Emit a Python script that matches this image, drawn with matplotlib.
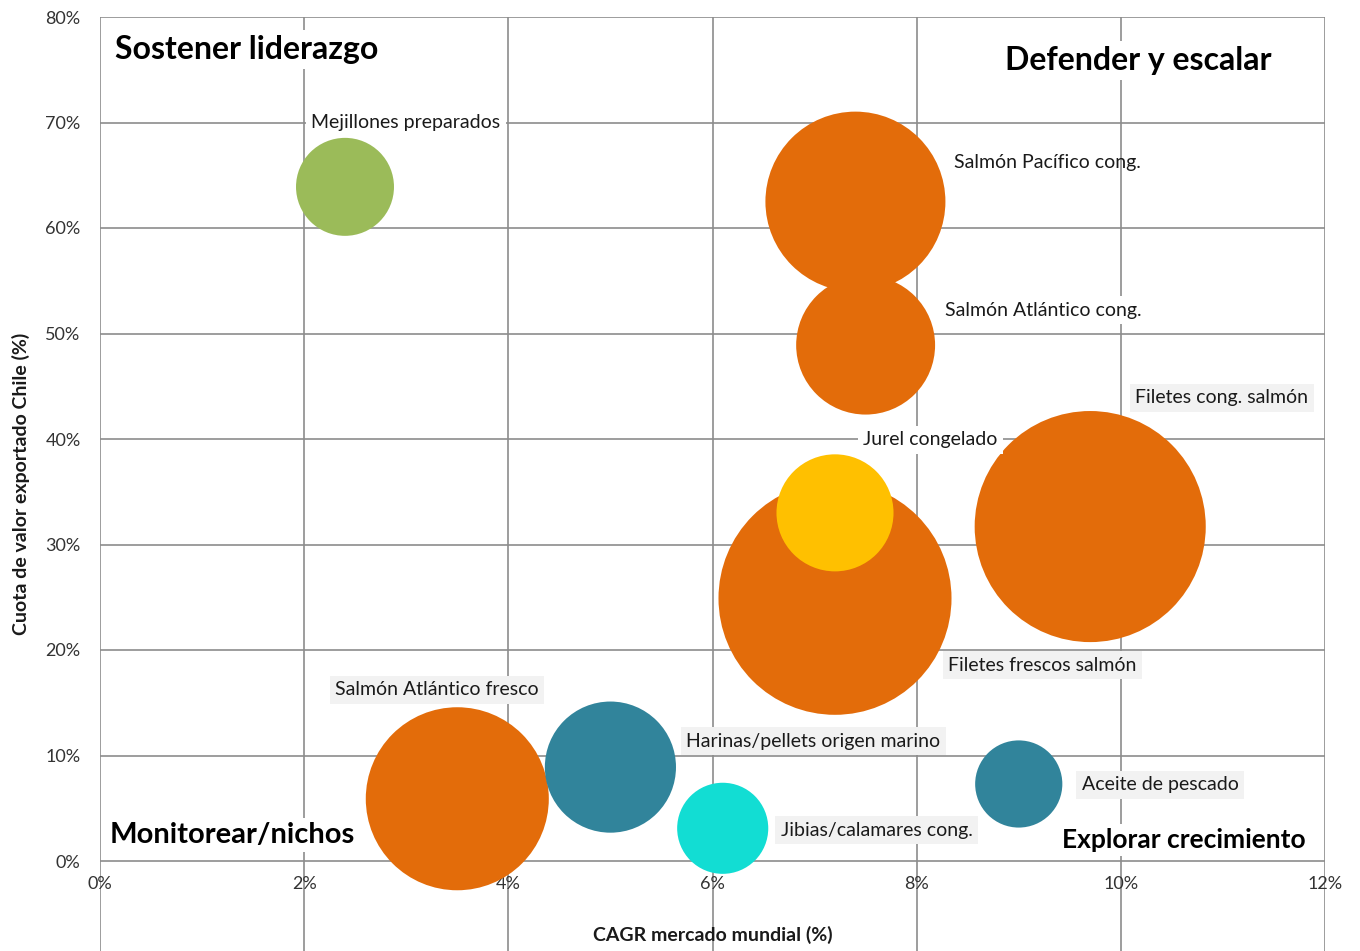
import matplotlib.pyplot as plt
from matplotlib.ticker import FuncFormatter

plt.rcParams['font.family'] = ['Lato', 'DejaVu Sans']

# datos
productos = ['Mejillones preparados', 'Salmón Pacífico cong.', 'Salmón Atlántico cong.',
             'Filetes cong. salmón', 'Filetes frescos salmón', 'Jurel congelado',
             'Salmón Atlántico fresco', 'Harinas/pellets origen marino',
             'Jibias/calamares cong.', 'Aceite de pescado']
cagr = [2.4, 7.4, 7.5, 9.7, 7.2, 7.2, 3.5, 5.0, 6.1, 9.0]
cuota = [63.9, 62.5, 48.9, 31.7, 24.9, 33.0, 5.9, 8.9, 3.1, 7.3]
tamano = [9.6, 32.4, 19.3, 53.4, 54.3, 13.7, 33.5, 17.2, 8.3, 7.6]
colores = ['#9BBB59', '#E36C0A', '#E36C0A', '#E36C0A', '#E36C0A', '#FFC000',
           '#E36C0A', '#31849B', '#12DDD3', '#31849B']

# posicion de las etiquetas (pixeles desde el centro de la burbuja) y fondo
etiq_offset = [(-34, 64), (99, 39), (79, 35), (45, 129), (113, -67), (28, 73),
               (-122, 109), (76, 26), (58, -2), (63, -1)]
etiq_fondo = ['white', None, 'white', '#F2F2F2', '#F2F2F2', 'white',
              '#F2F2F2', '#F2F2F2', '#F2F2F2', '#F2F2F2']

xticks = [0, 2, 4, 6, 8, 10, 12]
yticks = [0, 10, 20, 30, 40, 50, 60, 70, 80]

fig = plt.figure(figsize=(13.6, 9.51), dpi=100)
ax = fig.add_axes([100 / 1360, 0, 1225 / 1360, 934 / 951])

ax.set_xlim(0, 12)
ax.set_ylim(-(951 - 861) / 10.55, 80)
ax.set_xticks(xticks)
ax.set_yticks(yticks)
pct = FuncFormatter(lambda v, p: f'{v:.0f}%')
ax.xaxis.set_major_formatter(pct)
ax.yaxis.set_major_formatter(pct)

for s in ax.spines.values():
    s.set_visible(False)
ax.spines['bottom'].set_position(('data', 0))
ax.tick_params(axis='both', length=0, labelsize=13, labelcolor='#333333')
ax.tick_params(axis='x', pad=11)
ax.tick_params(axis='y', pad=14)
ax.grid(True, color='#8C8C8C', linewidth=1.2)
ax.set_axisbelow(True)

for i in range(len(productos)):
    ax.scatter(cagr[i], cuota[i], s=tamano[i] * 1000 * 0.72 ** 2, color=colores[i],
               edgecolors='none', zorder=3, clip_on=False)
    fondo = etiq_fondo[i]
    bbox = None
    if fondo is not None:
        bbox = dict(boxstyle='square,pad=0.28', facecolor=fondo, edgecolor='none')
    ax.annotate(productos[i], (cagr[i], cuota[i]), xytext=etiq_offset[i],
                textcoords='offset pixels', ha='left', va='center', fontsize=14,
                color='#1A1A1A', bbox=bbox, zorder=4, annotation_clip=False)

# etiquetas de cuadrantes (bajo las burbujas)
cuadrante = dict(fontweight='bold', color='black', va='center', zorder=2,
                 bbox=dict(boxstyle='square,pad=0.15', facecolor='white', edgecolor='none'))
ax.text(0.15, 76.9, 'Sostener liderazgo', ha='left', fontsize=23, **cuadrante)
ax.text(11.48, 75.9, 'Defender y escalar', ha='right', fontsize=23, **cuadrante)
ax.text(0.09, 2.46, 'Monitorear/nichos', ha='left', fontsize=21, **cuadrante)
ax.text(11.81, 1.99, 'Explorar crecimiento', ha='right', fontsize=19, **cuadrante)

ax.set_xlabel('CAGR mercado mundial (%)', fontsize=14, fontweight='bold', color='#1A1A1A')
ax.set_ylabel('Cuota de valor exportado Chile (%)', fontsize=14, fontweight='bold',
              color='#1A1A1A')
ax.xaxis.set_label_coords(0.5, (951 - 926) / 934)
ax.yaxis.set_label_coords((30 - 100) / 1225, 0.5)

fig.savefig('out.png', dpi=100)
